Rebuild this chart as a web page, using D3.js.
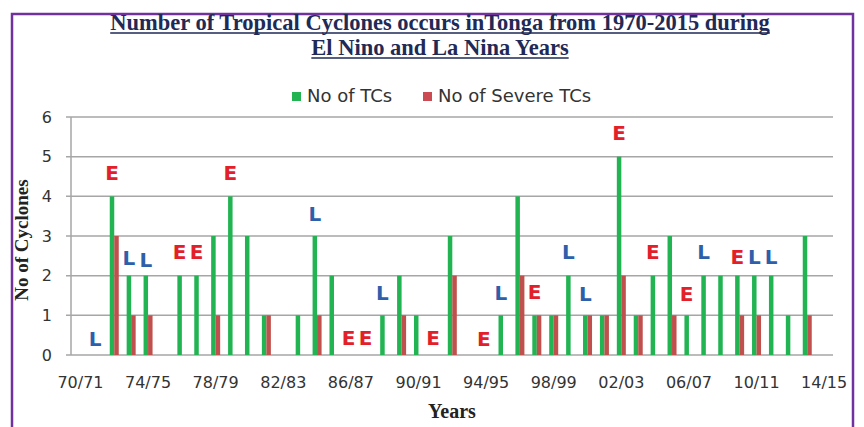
<!DOCTYPE html>
<html>
<head>
<meta charset="utf-8">
<script src="https://cdn.jsdelivr.net/npm/d3@7"></script>
<style>
  body { margin: 0; background: #fff; }
  svg { display: block; }
</style>
</head>
<body>
<svg id="chart"></svg>
<script>
// seasons (Nov-Apr cyclone seasons)
var seasons = ["70/71","71/72","72/73","73/74","74/75","75/76","76/77","77/78","78/79","79/80",
	"80/81","81/82","82/83","83/84","84/85","85/86","86/87","87/88","88/89","89/90",
	"90/91","91/92","92/93","93/94","94/95","95/96","96/97","97/98","98/99","99/00",
	"00/01","01/02","02/03","03/04","04/05","05/06","06/07","07/08","08/09","09/10",
	"10/11","11/12","12/13","13/14","14/15"];

var numTCs = [0,0,4,2,2,0,2,2,3,4, 3,1,0,1,3,2,0,0,1,2, 1,0,3,0,0,1,4,1,1,2, 1,1,5,1,2,3,1,2,2,2, 2,2,1,3,0];
var numSevere = [0,0,3,1,1,0,0,0,1,0, 0,1,0,0,1,0,0,0,0,1, 0,0,2,0,0,0,2,1,1,0, 1,1,2,1,0,1,0,0,0,1, 1,0,0,1,0];

// El Nino (E) / La Nina (L) markers and the height (in cyclones) they sit at
var ensoSeason = ["71/72","72/73","73/74","74/75","76/77","77/78","79/80","84/85","86/87","87/88",
	"88/89","91/92","94/95","95/96","97/98","99/00","00/01","02/03","04/05","06/07",
	"07/08","09/10","10/11","11/12"];
var ensoPhase = ["L","E","L","L","E","E","E","L","E","E",
	"L","E","E","L","E","L","L","E","E","E",
	"L","E","L","L"];
var ensoLevel = [0.4,4.6,2.45,2.4,2.6,2.6,4.6,3.55,0.43,0.43,
	1.57,0.43,0.4,1.57,1.6,2.6,1.55,5.6,2.6,1.55,
	2.6,2.48,2.48,2.48];

var yTicks = [0,1,2,3,4,5,6];
var seriesNames = ["No of TCs", "No of Severe TCs"];

var width = 864, height = 427;
var green = "#22b452", red = "#c0504d";

var svg = d3.select("#chart")
	.attr("width", width)
	.attr("height", height);

// purple frame
svg.append("rect")
	.attr("x", 12).attr("y", 14)
	.attr("width", 841).attr("height", 440)
	.attr("fill", "none")
	.attr("stroke", "#7030a0")
	.attr("stroke-width", 2.5);

var x = d3.scaleBand()
	.domain(seasons)
	.range([72, 832.6]);

var y = d3.scaleLinear()
	.domain([0, 6])
	.range([355, 117]);

var bw = x.bandwidth();
var barW = 4.5;

// grid
svg.append("g")
	.selectAll("line")
	.data(yTicks)
	.enter()
	.append("line")
		.attr("x1", 66).attr("x2", 833)
		.attr("y1", function(d) { return y(d); })
		.attr("y2", function(d) { return y(d); })
		.attr("stroke", "#a6a6a6")
		.attr("stroke-width", 1.5);

svg.append("line")
	.attr("x1", 71).attr("x2", 71)
	.attr("y1", y(6)).attr("y2", y(0))
	.attr("stroke", "#a6a6a6")
	.attr("stroke-width", 1.5);

// y axis labels
var yAxis = svg.append("g")
	.attr("transform", "translate(71,0)")
	.call(d3.axisLeft(y).tickValues(yTicks).tickSize(0).tickPadding(19).tickFormat(d3.format("d")));
yAxis.select(".domain").remove();
yAxis.selectAll("text")
	.attr("font-family", "DejaVu Sans")
	.attr("font-size", 16)
	.attr("fill", "#333");

// x axis labels
var xAxis = svg.append("g")
	.attr("transform", "translate(0," + y(0) + ")")
	.call(d3.axisBottom(x)
		.tickValues(seasons.filter(function(d, i) { return i % 4 === 0; }))
		.tickSize(0)
		.tickPadding(22));
xAxis.select(".domain").remove();
xAxis.selectAll("text")
	.attr("font-family", "DejaVu Sans")
	.attr("font-size", 16)
	.attr("fill", "#333");

// bars
var bars = svg.append("g");
bars.selectAll(".tc")
	.data(seasons)
	.enter()
	.append("rect")
		.attr("class", "tc")
		.attr("x", function(d) { return x(d) + bw / 2 - barW; })
		.attr("y", function(d, i) { return y(numTCs[i]); })
		.attr("width", barW)
		.attr("height", function(d, i) { return y(0) - y(numTCs[i]); })
		.attr("fill", green);

bars.selectAll(".severe")
	.data(seasons)
	.enter()
	.append("rect")
		.attr("class", "severe")
		.attr("x", function(d) { return x(d) + bw / 2; })
		.attr("y", function(d, i) { return y(numSevere[i]); })
		.attr("width", barW)
		.attr("height", function(d, i) { return y(0) - y(numSevere[i]); })
		.attr("fill", red);

// E / L markers
svg.append("g")
	.selectAll("text")
	.data(ensoSeason)
	.enter()
	.append("text")
		.attr("x", function(d) { return x(d) + bw / 2 - barW / 2; })
		.attr("y", function(d, i) { return y(ensoLevel[i]); })
		.attr("dy", "0.36em")
		.attr("text-anchor", "middle")
		.attr("font-family", "DejaVu Sans")
		.attr("font-weight", "bold")
		.attr("font-size", 20)
		.attr("fill", function(d, i) { return ensoPhase[i] === "E" ? "#e3202a" : "#2d5fab"; })
		.text(function(d, i) { return ensoPhase[i]; });

// legend
var legendX = [292, 423];
var legend = svg.append("g")
	.selectAll("g")
	.data(seriesNames)
	.enter()
	.append("g")
		.attr("transform", function(d, i) { return "translate(" + legendX[i] + ",92)"; });
legend.append("rect")
	.attr("width", 9).attr("height", 9)
	.attr("fill", function(d, i) { return i === 0 ? green : "#cc4a52"; });
legend.append("text")
	.attr("x", 15).attr("y", 10)
	.attr("font-family", "DejaVu Sans")
	.attr("font-size", 18)
	.attr("fill", "#333")
	.text(function(d) { return d; });

// title, underlined
var titleLines = ["Number of Tropical Cyclones occurs inTonga from 1970-2015 during", "El Nino and La Nina Years"];
var titleBase = [30, 55];
titleLines.forEach(function(t, i) {
	var txt = svg.append("text")
		.attr("x", 440).attr("y", titleBase[i])
		.attr("text-anchor", "middle")
		.attr("font-family", "Liberation Serif")
		.attr("font-weight", "bold")
		.attr("font-size", 22.5)
		.attr("fill", "#1f2a56")
		.text(t);
	var w = txt.node().getComputedTextLength();
	svg.append("line")
		.attr("x1", 440 - w / 2).attr("x2", 440 + w / 2)
		.attr("y1", titleBase[i] + 3).attr("y2", titleBase[i] + 3)
		.attr("stroke", "#1f2a56")
		.attr("stroke-width", 1.3);
});

// axis titles
svg.append("text")
	.attr("transform", "translate(28,240) rotate(-90)")
	.attr("text-anchor", "middle")
	.attr("font-family", "Liberation Serif")
	.attr("font-weight", "bold")
	.attr("font-size", 19)
	.attr("fill", "#222")
	.text("No of Cyclones");

svg.append("text")
	.attr("x", 452).attr("y", 418)
	.attr("text-anchor", "middle")
	.attr("font-family", "Liberation Serif")
	.attr("font-weight", "bold")
	.attr("font-size", 20)
	.attr("fill", "#222")
	.text("Years");
</script>
</body>
</html>
